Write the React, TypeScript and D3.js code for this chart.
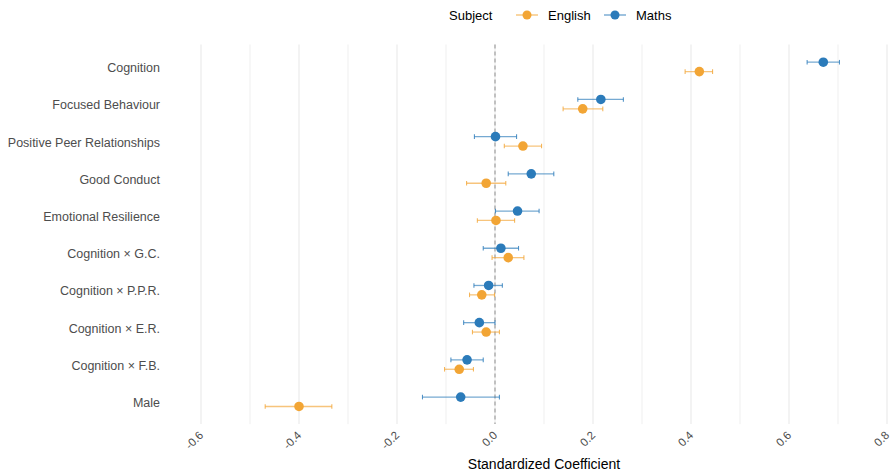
import React from "react";
import * as d3 from "d3";

const terms = [
  "Cognition",
  "Focused Behaviour",
  "Positive Peer Relationships",
  "Good Conduct",
  "Emotional Resilience",
  "Cognition × G.C.",
  "Cognition × P.P.R.",
  "Cognition × E.R.",
  "Cognition × F.B.",
  "Male",
];

const mathsEst = [0.670, 0.216, 0.001, 0.074, 0.046, 0.012, -0.013, -0.032, -0.057, -0.070];
const mathsLo = [0.637, 0.169, -0.042, 0.027, 0.001, -0.024, -0.043, -0.064, -0.090, -0.148];
const mathsHi = [0.703, 0.262, 0.044, 0.120, 0.090, 0.048, 0.015, 0.000, -0.024, 0.009];

const englishEst = [0.417, 0.179, 0.057, -0.018, 0.002, 0.027, -0.027, -0.018, -0.073, -0.400];
const englishLo = [0.388, 0.139, 0.019, -0.058, -0.036, -0.006, -0.052, -0.046, -0.103, -0.469];
const englishHi = [0.444, 0.220, 0.095, 0.022, 0.040, 0.059, -0.001, 0.009, -0.044, -0.333];

const xTicks = [-0.6, -0.4, -0.2, 0.0, 0.2, 0.4, 0.6, 0.8];
const xMinor = [-0.5, -0.3, -0.1, 0.1, 0.3, 0.5, 0.7];

const ORANGE = "#F2A535";
const BLUE = "#2B7BBA";

export default function App() {
  const W = 893;
  const H = 471;
  const panelLeft = 201;
  const panelRight = 887;
  const panelTop = 44.6;
  const panelBottom = 424.1;

  const x = d3.scaleLinear().domain([-0.6, 0.8]).range([panelLeft, panelRight]);
  const y = d3
    .scalePoint<string>()
    .domain(terms)
    .range([panelTop, panelBottom])
    .padding(0.6);
  const dodge = 4.7;

  const series = [
    { name: "Maths", color: BLUE, est: mathsEst, lo: mathsLo, hi: mathsHi, off: -dodge },
    { name: "English", color: ORANGE, est: englishEst, lo: englishLo, hi: englishHi, off: dodge },
  ];

  const font = "Arial, 'Liberation Sans', sans-serif";

  return (
    <svg width={W} height={H} style={{ position: "absolute", left: 0, top: 0 }} fontFamily={font}>
      <rect x={0} y={0} width={W} height={H} fill="#ffffff" />
      {xMinor.map((v) => (
        <line key={"mn" + v} x1={x(v)} x2={x(v)} y1={panelTop} y2={panelBottom} stroke="#ebebeb" strokeWidth={0.8} />
      ))}
      {xTicks.map((v) => (
        <line key={"mj" + v} x1={x(v)} x2={x(v)} y1={panelTop} y2={panelBottom} stroke="#ebebeb" strokeWidth={1.2} />
      ))}
      <line x1={x(0)} x2={x(0)} y1={panelTop} y2={panelBottom} stroke="#a6a6a6" strokeWidth={1.3} strokeDasharray="4,3" />

      {series.map((s) =>
        terms.map((t, i) => {
          const cy = (y(t) as number) + s.off;
          return (
            <g key={s.name + t}>
              <line x1={x(s.lo[i])} x2={x(s.hi[i])} y1={cy} y2={cy} stroke={s.color} strokeOpacity={0.65} strokeWidth={1.3} />
              <line x1={x(s.lo[i])} x2={x(s.lo[i])} y1={cy - 2.3} y2={cy + 2.3} stroke={s.color} strokeOpacity={0.8} strokeWidth={1.1} />
              <line x1={x(s.hi[i])} x2={x(s.hi[i])} y1={cy - 2.3} y2={cy + 2.3} stroke={s.color} strokeOpacity={0.8} strokeWidth={1.1} />
              <circle cx={x(s.est[i])} cy={cy} r={4.8} fill={s.color} />
            </g>
          );
        })
      )}

      {terms.map((t) => (
        <text key={"yl" + t} x={160} y={(y(t) as number) + 5.2} textAnchor="end" fontSize={12.5} fill="#4d4d4d">
          {t}
        </text>
      ))}

      {xTicks.map((v) => (
        <text
          key={"xt" + v}
          transform={`translate(${x(v) + 3},${436}) rotate(-45)`}
          textAnchor="end"
          fontSize={11.5}
          fill="#4d4d4d"
        >
          {d3.format(".1f")(v).replace("−", "-")}
        </text>
      ))}

      <text x={(panelLeft + panelRight) / 2} y={469} textAnchor="middle" fontSize={14} fill="#000">
        Standardized Coefficient
      </text>

      <g>
        <text x={449} y={19.5} fontSize={13} fill="#000">Subject</text>
        <line x1={516} x2={538} y1={15} y2={15} stroke={ORANGE} strokeOpacity={0.7} strokeWidth={1.3} />
        <circle cx={527} cy={15} r={4.5} fill={ORANGE} />
        <text x={548} y={19.5} fontSize={13} fill="#000">English</text>
        <line x1={604} x2={626} y1={15} y2={15} stroke={BLUE} strokeOpacity={0.7} strokeWidth={1.3} />
        <circle cx={615} cy={15} r={4.5} fill={BLUE} />
        <text x={636} y={19.5} fontSize={13} fill="#000">Maths</text>
      </g>
    </svg>
  );
}
